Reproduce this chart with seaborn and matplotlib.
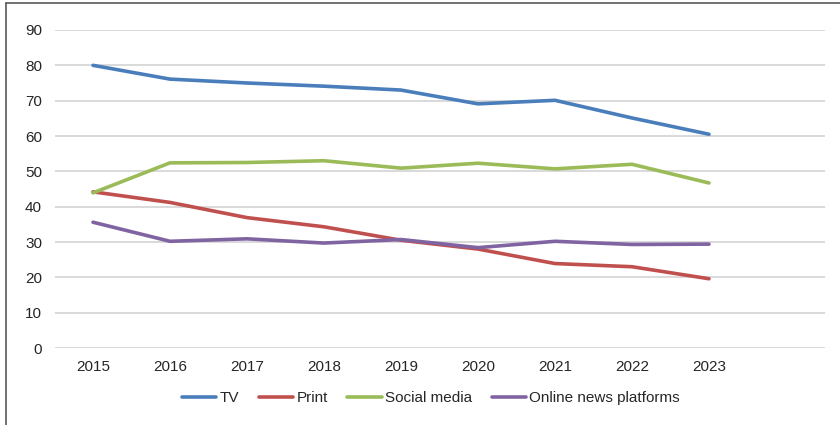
import matplotlib
matplotlib.use("Agg")
import matplotlib.pyplot as plt
from matplotlib.lines import Line2D
import pandas as pd
import seaborn as sns

years = [2015, 2016, 2017, 2018, 2019, 2020, 2021, 2022, 2023]
tv = [80.0, 76.1, 75.0, 74.1, 73.0, 69.1, 70.1, 65.1, 60.5]
print_media = [44.2, 41.2, 36.9, 34.3, 30.5, 28.0, 23.9, 23.0, 19.6]
social_media = [43.9, 52.4, 52.5, 53.0, 50.9, 52.3, 50.7, 52.0, 46.7]
online_news = [35.6, 30.2, 30.9, 29.7, 30.7, 28.4, 30.2, 29.3, 29.4]

series_names = ["TV", "Print", "Social media", "Online news platforms"]
series_values = [tv, print_media, social_media, online_news]
colors = ["#4A7EBB", "#C0504D", "#9BBB59", "#8064A2"]
y_ticks = [0, 10, 20, 30, 40, 50, 60, 70, 80, 90]

df = pd.DataFrame(
    [(y, v, name) for name, vals in zip(series_names, series_values)
     for y, v in zip(years, vals)],
    columns=["Year", "Value", "Series"],
)

sns.set_theme(style="white")
plt.rcParams["font.family"] = ["Liberation Sans", "DejaVu Sans"]

fig = plt.figure(figsize=(8.4, 4.25), dpi=100)
ax = fig.add_axes([54.5 / 840, 1 - 348 / 425, 770 / 840, 318 / 425])

sns.lineplot(data=df, x="Year", y="Value", hue="Series", hue_order=series_names,
             palette=colors, linewidth=2.6, ax=ax, legend=False)

ax.set_xlim(years[0] - 0.5, years[-1] + 1.5)
ax.set_ylim(0, 90)
ax.set_xticks(years)
ax.set_xticklabels([str(y) for y in years])
ax.set_yticks(y_ticks)
ax.set_xlabel("")
ax.set_ylabel("")
ax.grid(axis="y", color="#D9D9D9", linewidth=1.4)
ax.set_axisbelow(True)
for side in ["top", "right", "left", "bottom"]:
    ax.spines[side].set_visible(False)
ax.tick_params(axis="both", length=0, labelsize=11, labelcolor="#262626")
ax.tick_params(axis="y", pad=9)
ax.tick_params(axis="x", pad=8.5)

handles = [Line2D([], [], color=c, linewidth=2.6) for c in colors]
fig.legend(handles, series_names, loc="center", bbox_to_anchor=(431 / 840, 1 - 398 / 425),
           ncol=4, frameon=False, fontsize=11, handlelength=2.25, handletextpad=0.2,
           columnspacing=1.3, labelcolor="#262626")

# outer frame
fig.add_artist(Line2D([5.5 / 840, 5.5 / 840], [0, 1 - 3 / 425], color="#595959", linewidth=1.2,
                      transform=fig.transFigure))
fig.add_artist(Line2D([5.5 / 840, 1], [1 - 3 / 425, 1 - 3 / 425], color="#595959", linewidth=1.2,
                      transform=fig.transFigure))

fig.savefig("out.png", dpi=100)
